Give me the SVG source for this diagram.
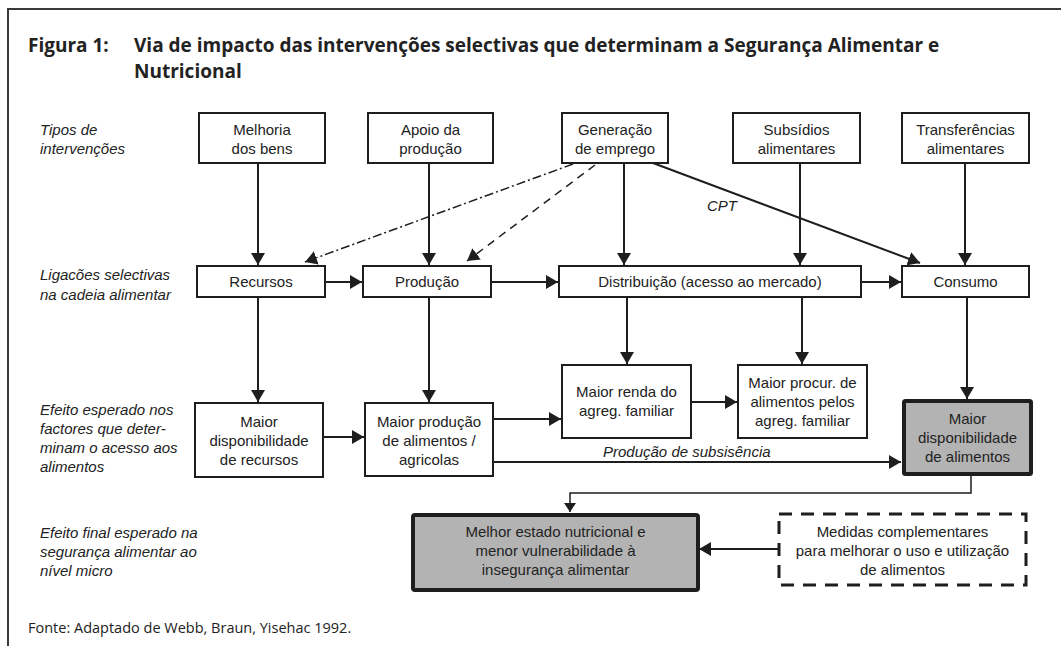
<svg xmlns="http://www.w3.org/2000/svg" width="1061" height="646" viewBox="0 0 1061 646">
  <style>
    .frame { fill: none; stroke: #3a3a3a; stroke-width: 2; }
    .title { font-family: "Open Sans", "Noto Sans", sans-serif; font-weight: 700; font-size: 19px; fill: #222; }
    .source { font-family: "Open Sans", "Noto Sans", sans-serif; font-size: 14.5px; fill: #222; }
    .lbl { font-family: "Liberation Sans", Arial, sans-serif; font-style: italic; font-size: 15px; fill: #222; }
    .box { fill: #fff; stroke: #1e1e1e; stroke-width: 2; }
    .hot { fill: #b3b3b3; stroke: #1e1e1e; stroke-width: 4; }
    .dbox { fill: #fff; stroke: #1e1e1e; stroke-width: 3; stroke-dasharray: 13 9; }
    .t { font-family: "Liberation Sans", Arial, sans-serif; font-size: 15px; fill: #222; text-anchor: middle; }
    .ln { fill: none; stroke: #1e1e1e; stroke-width: 2; }
    .thin { fill: none; stroke: #1e1e1e; stroke-width: 1.5; }
    .dashdot { fill: none; stroke: #1e1e1e; stroke-width: 1.5; stroke-dasharray: 9 3 2 3; }
    .dash { fill: none; stroke: #1e1e1e; stroke-width: 1.5; stroke-dasharray: 8 6; }
  </style>
  <defs>
    <marker id="ah" markerUnits="userSpaceOnUse" viewBox="0 0 12 14" refX="12" refY="7" markerWidth="12" markerHeight="14" orient="auto">
      <path d="M0,0 L12,7 L0,14 z" fill="#1e1e1e"/>
    </marker>
    <marker id="ahs" markerUnits="userSpaceOnUse" viewBox="0 0 9 12" refX="9" refY="6" markerWidth="9" markerHeight="12" orient="auto">
      <path d="M0,0 L9,6 L0,12 z" fill="#1e1e1e"/>
    </marker>
  </defs>

  <!-- page frame -->
  <path class="frame" d="M8,646 V9 H1061"/>

  <!-- heading -->
  <text class="title" x="28" y="52">Figura 1:</text>
  <text class="title" x="134" y="52">Via de impacto das intervenções selectivas que determinam a Segurança Alimentar e</text>
  <text class="title" x="134" y="78">Nutricional</text>

  <!-- row captions -->
  <g id="row-labels">
    <text class="lbl" x="40" y="135">Tipos de</text>
    <text class="lbl" x="40" y="154">intervenções</text>
    <text class="lbl" x="40" y="280">Ligacões selectivas</text>
    <text class="lbl" x="40" y="300">na cadeia alimentar</text>
    <text class="lbl" x="40" y="415">Efeito esperado nos</text>
    <text class="lbl" x="40" y="434">factores que deter-</text>
    <text class="lbl" x="40" y="453">minam o acesso aos</text>
    <text class="lbl" x="40" y="472">alimentos</text>
    <text class="lbl" x="40" y="538">Efeito final esperado na</text>
    <text class="lbl" x="40" y="557">segurança alimentar ao</text>
    <text class="lbl" x="40" y="576">nível micro</text>
  </g>

  <!-- connectors -->
  <g id="connectors">
    <line class="ln" x1="258" y1="163" x2="258" y2="265" marker-end="url(#ah)"/>
    <line class="ln" x1="429" y1="163" x2="429" y2="265" marker-end="url(#ah)"/>
    <line class="ln" x1="624" y1="163" x2="624" y2="265" marker-end="url(#ah)"/>
    <line class="ln" x1="800" y1="163" x2="800" y2="265" marker-end="url(#ah)"/>
    <line class="ln" x1="965" y1="163" x2="965" y2="265" marker-end="url(#ah)"/>
    <line class="ln" x1="653" y1="163" x2="920" y2="263" marker-end="url(#ah)"/>
    <line class="dashdot" x1="573" y1="164" x2="305" y2="262" marker-end="url(#ah)"/>
    <line class="dash" x1="595" y1="165" x2="467" y2="261" marker-end="url(#ah)"/>

    <line class="ln" x1="325" y1="282" x2="362" y2="282" marker-end="url(#ah)"/>
    <line class="ln" x1="491" y1="282" x2="558" y2="282" marker-end="url(#ah)"/>
    <line class="ln" x1="861" y1="282" x2="901" y2="282" marker-end="url(#ah)"/>

    <line class="ln" x1="258" y1="297" x2="258" y2="402" marker-end="url(#ah)"/>
    <line class="ln" x1="429" y1="297" x2="429" y2="402" marker-end="url(#ah)"/>
    <line class="ln" x1="627" y1="297" x2="627" y2="364" marker-end="url(#ah)"/>
    <line class="ln" x1="802" y1="297" x2="802" y2="364" marker-end="url(#ah)"/>
    <line class="ln" x1="967" y1="297" x2="967" y2="399" marker-end="url(#ah)"/>

    <line class="ln" x1="323" y1="437" x2="364" y2="437" marker-end="url(#ah)"/>
    <line class="ln" x1="493" y1="419" x2="561" y2="419" marker-end="url(#ah)"/>
    <line class="ln" x1="691" y1="402" x2="737" y2="402" marker-end="url(#ah)"/>
    <line class="ln" x1="493" y1="462" x2="901" y2="462" marker-end="url(#ah)"/>
    <text class="lbl" x="603" y="457">Produção de subsisência</text>
    <text class="lbl" x="707" y="211">CPT</text>

    <path class="thin" d="M971,476 V493 H570 V512" marker-end="url(#ahs)"/>
    <line class="ln" x1="779" y1="549" x2="699" y2="549" marker-end="url(#ah)"/>
  </g>

  <!-- intervention types -->
  <g id="n-melhoria">
    <rect class="box" x="199" y="113" width="126" height="50"/>
    <text class="t" x="262" y="135">Melhoria</text>
    <text class="t" x="262" y="154">dos bens</text>
  </g>
  <g id="n-apoio">
    <rect class="box" x="368" y="113" width="125" height="50"/>
    <text class="t" x="430.5" y="135">Apoio da</text>
    <text class="t" x="430.5" y="154">produção</text>
  </g>
  <g id="n-emprego">
    <rect class="box" x="562" y="113" width="106" height="50"/>
    <text class="t" x="615" y="135">Generação</text>
    <text class="t" x="615" y="154">de emprego</text>
  </g>
  <g id="n-subsidios">
    <rect class="box" x="733" y="113" width="127" height="50"/>
    <text class="t" x="796.5" y="135">Subsídios</text>
    <text class="t" x="796.5" y="154">alimentares</text>
  </g>
  <g id="n-transferencias">
    <rect class="box" x="902" y="113" width="127" height="50"/>
    <text class="t" x="965.5" y="135">Transferências</text>
    <text class="t" x="965.5" y="154">alimentares</text>
  </g>

  <!-- food chain links -->
  <g id="n-recursos">
    <rect class="box" x="197" y="266" width="128" height="31"/>
    <text class="t" x="261" y="287">Recursos</text>
  </g>
  <g id="n-producao">
    <rect class="box" x="363" y="266" width="128" height="31"/>
    <text class="t" x="427" y="287">Produção</text>
  </g>
  <g id="n-distribuicao">
    <rect class="box" x="559" y="266" width="302" height="31"/>
    <text class="t" x="710" y="287">Distribuição (acesso ao mercado)</text>
  </g>
  <g id="n-consumo">
    <rect class="box" x="902" y="266" width="127" height="31"/>
    <text class="t" x="965.5" y="287">Consumo</text>
  </g>

  <!-- expected effects -->
  <g id="n-disp-recursos">
    <rect class="box" x="195" y="403" width="128" height="74"/>
    <text class="t" x="259" y="427">Maior</text>
    <text class="t" x="259" y="446">disponibilidade</text>
    <text class="t" x="259" y="465">de recursos</text>
  </g>
  <g id="n-prod-alimentos">
    <rect class="box" x="365" y="403" width="128" height="73"/>
    <text class="t" x="429" y="427">Maior produção</text>
    <text class="t" x="429" y="446">de alimentos /</text>
    <text class="t" x="429" y="465">agricolas</text>
  </g>
  <g id="n-renda">
    <rect class="box" x="562" y="365" width="129" height="73"/>
    <text class="t" x="626.5" y="397">Maior renda do</text>
    <text class="t" x="626.5" y="416">agreg. familiar</text>
  </g>
  <g id="n-procura">
    <rect class="box" x="738" y="365" width="129" height="73"/>
    <text class="t" x="802.5" y="388">Maior procur. de</text>
    <text class="t" x="802.5" y="407">alimentos pelos</text>
    <text class="t" x="802.5" y="426">agreg. familiar</text>
  </g>
  <g id="n-disp-alimentos">
    <rect class="hot" x="904" y="401" width="127" height="73" rx="1.5"/>
    <text class="t" x="967.5" y="424">Maior</text>
    <text class="t" x="967.5" y="443">disponibilidade</text>
    <text class="t" x="967.5" y="462">de alimentos</text>
  </g>

  <!-- final effect -->
  <g id="n-estado-nutricional">
    <rect class="hot" x="413" y="515" width="285" height="75" rx="2"/>
    <text class="t" x="555.5" y="537">Melhor estado nutricional e</text>
    <text class="t" x="555.5" y="556">menor vulnerabilidade à</text>
    <text class="t" x="555.5" y="575">insegurança alimentar</text>
  </g>
  <g id="n-medidas">
    <rect class="dbox" x="779" y="514" width="247" height="71"/>
    <text class="t" x="902.5" y="537">Medidas complementares</text>
    <text class="t" x="902.5" y="556">para melhorar o uso e utilização</text>
    <text class="t" x="902.5" y="575">de alimentos</text>
  </g>

  <!-- source note -->
  <text class="source" x="28" y="633">Fonte: Adaptado de Webb, Braun, Yisehac 1992.</text>
</svg>
